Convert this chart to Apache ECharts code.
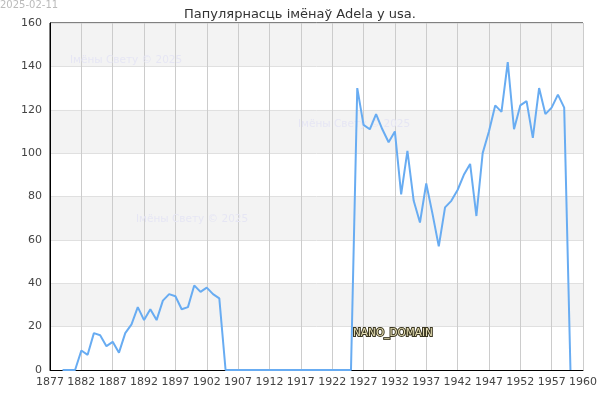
<!DOCTYPE html>
<html>
<head>
<meta charset="utf-8">
<script src="https://cdn.jsdelivr.net/npm/echarts@6/dist/echarts.min.js"></script>
<style>
  html, body { margin: 0; padding: 0; background: #fff; }
  #chart { width: 600px; height: 400px; }
</style>
</head>
<body>
<div id="chart"></div>
<script>
const years = [
  1879, 1880, 1881, 1882, 1883, 1884, 1885, 1886, 1887, 1888, 1889, 1890,
  1891, 1892, 1893, 1894, 1895, 1896, 1897, 1898, 1899, 1900, 1901, 1902,
  1903, 1904, 1905, 1906, 1907, 1908, 1909, 1910, 1911, 1912, 1913, 1914,
  1915, 1916, 1917, 1918, 1919, 1920, 1921, 1922, 1923, 1924, 1925, 1926,
  1927, 1928, 1929, 1930, 1931, 1932, 1933, 1934, 1935, 1936, 1937, 1938,
  1939, 1940, 1941, 1942, 1943, 1944, 1945, 1946, 1947, 1948, 1949, 1950,
  1951, 1952, 1953, 1954, 1955, 1956, 1957, 1958, 1959, 1960
]
const counts = [
  0, 0, 0, 9, 7, 17, 16, 11, 13, 8, 17, 21,
  29, 23, 28, 23, 32, 35, 34, 28, 29, 39, 36, 38,
  35, 33, 0, 0, 0, 0, 0, 0, 0, 0, 0, 0,
  0, 0, 0, 0, 0, 0, 0, 0, 0, 0, 0, 130,
  113, 111, 118, 111, 105, 110, 81, 101, 78, 68, 86, 72,
  57, 75, 78, 83, 90, 95, 71, 100, 110, 122, 119, 142,
  111, 122, 124, 107, 130, 118, 121, 127, 121, 0
]
const xTickLabels = [
  '1877', '1882', '1887', '1892', '1897', '1902', '1907', '1912', '1917',
  '1922', '1927', '1932', '1937', '1942', '1947', '1952', '1957', '1960'
]
const yTicks = [0, 20, 40, 60, 80, 100, 120, 140, 160]

const chart = echarts.init(document.getElementById('chart'))
const font = 'DejaVu Sans'
const watermark = (x, y) => ({
  type: 'text', left: x, top: y, z: 1,
  style: { text: 'Імёны Свету © 2025', fill: '#e6e6f4', font: '10.5px "DejaVu Sans"' }
})

chart.setOption({
  animation: false,
  title: {
    text: 'Папулярнасць імёнаў Adela у usa.',
    left: 'center', top: 3,
    textStyle: { fontFamily: font, fontSize: 13, fontWeight: 'normal', color: '#333' }
  },
  grid: { left: 50, right: 14, top: 23, bottom: 30, show: true, borderColor: '#000', borderWidth: 1 },
  xAxis: {
    type: 'value',
    min: 1877,
    max: 1962,
    interval: 5,
    axisLine: { lineStyle: { color: '#000' } },
    axisTick: { show: false },
    axisLabel: {
      fontFamily: font, fontSize: 11, color: '#444', margin: 7,
      formatter: (v, i) => xTickLabels[i]
    },
    splitLine: { lineStyle: { color: '#cccccc' } }
  },
  yAxis: {
    type: 'value',
    min: yTicks[0],
    max: yTicks[yTicks.length - 1],
    interval: 20,
    axisLine: { show: true, lineStyle: { color: '#000' } },
    axisTick: { show: false },
    axisLabel: { fontFamily: font, fontSize: 11, color: '#444', margin: 8 },
    splitLine: { lineStyle: { color: '#e0e0e0' } },
    splitArea: { show: true, areaStyle: { color: ['#ffffff', '#f3f3f3'] } }
  },
  series: [{
    type: 'line',
    data: years.map((y, i) => [y, counts[i]]),
    showSymbol: false,
    lineStyle: { color: '#68acf2', width: 2 },
    z: 3
  }],
  graphic: [
    {
      type: 'text', left: 0, top: 0,
      style: { text: '2025-02-11', fill: '#bbbbbb', font: '10px "DejaVu Sans"' }
    },
    watermark(70, 55),
    watermark(298, 119),
    watermark(136, 214),
    {
      type: 'text', left: 352, top: 327, z: 10,
      style: {
        text: 'NANO_DOMAIN', fill: '#e6dfb4', stroke: '#3a3620', lineWidth: 2,
        font: '10.5px "DejaVu Sans"'
      }
    }
  ]
})
</script>
</body>
</html>
